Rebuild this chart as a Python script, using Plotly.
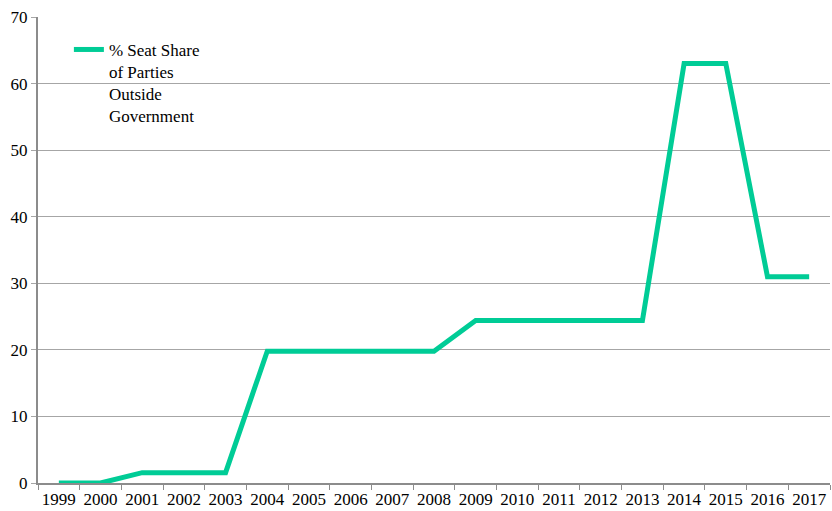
import plotly.graph_objects as go

years = [str(y) for y in range(1999, 2018)]
seat_share = [0, 0, 1.55, 1.55, 1.55, 19.8, 19.8, 19.8, 19.8, 19.8,
              24.4, 24.4, 24.4, 24.4, 24.4, 63, 63, 31, 31]
y_ticks = [0, 10, 20, 30, 40, 50, 60, 70]

font_family = "Liberation Serif"

fig = go.Figure()
fig.add_trace(go.Scatter(
    x=years, y=seat_share, mode="lines",
    name="% Seat Share<br>of Parties<br>Outside<br>Government",
    line=dict(color="#00cc96", width=5),
))

fig.update_layout(
    width=832, height=511,
    margin=dict(l=38, r=2, t=17, b=28, autoexpand=False),
    paper_bgcolor="white", plot_bgcolor="white",
    font=dict(family=font_family, size=16, color="black"),
    showlegend=True,
    legend=dict(x=0.039, y=0.968, xanchor="left", yanchor="top",
                valign="top", bgcolor="rgba(0,0,0,0)",
                font=dict(family=font_family, size=17, color="black")),
    xaxis=dict(type="category", range=[-0.5, 18.5],
               showgrid=False, showline=True, linecolor="#8c8c8c", linewidth=2,
               ticks="outside", ticklen=5, tickcolor="#8c8c8c",
               tickson="boundaries", tickangle=0, automargin=False,
               tickfont=dict(family=font_family, size=17)),
    yaxis=dict(range=[0, 70], tickvals=y_ticks,
               showgrid=True, gridcolor="#a6a6a6", gridwidth=1,
               showline=True, linecolor="#8c8c8c", linewidth=2,
               ticks="outside", ticklen=5, tickcolor="#a6a6a6",
               zeroline=False, automargin=False,
               tickfont=dict(family=font_family, size=17)),
)

fig.write_html("out.html", config={"displayModeBar": False},
               post_script="document.body.style.margin='0';document.body.style.padding='0';")
